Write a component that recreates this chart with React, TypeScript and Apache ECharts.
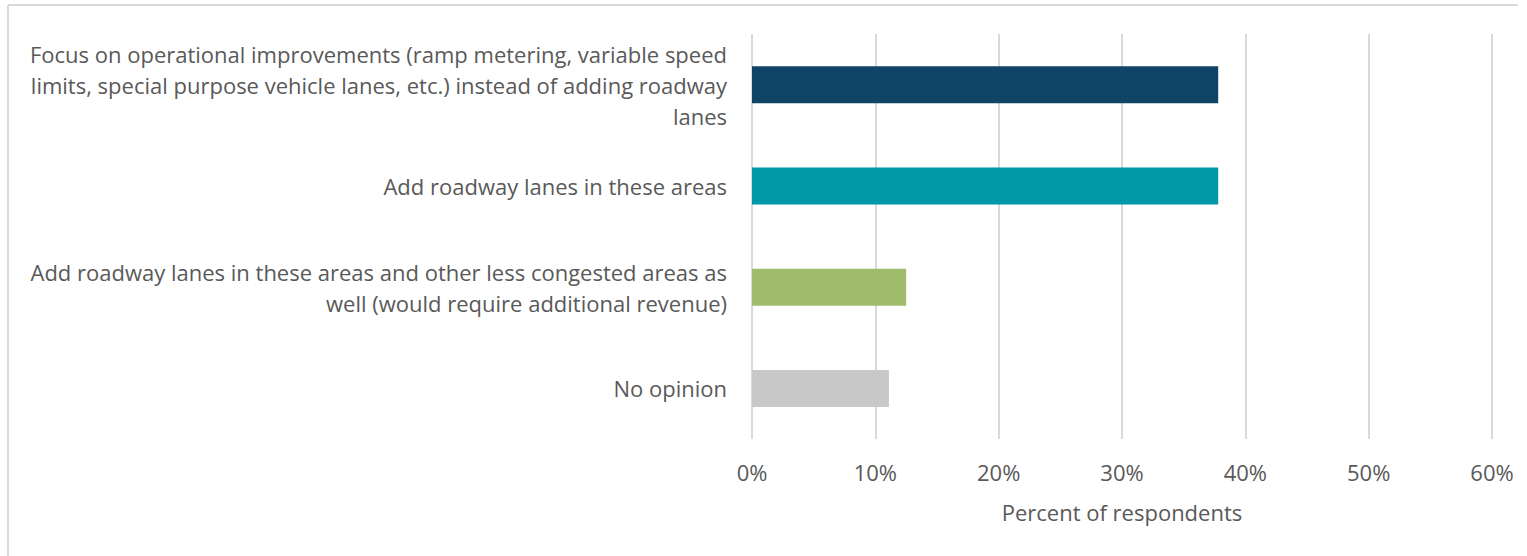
import React, { useEffect, useRef } from "react";
import * as echarts from "echarts";

const categories = [
  "Focus on operational improvements (ramp metering, variable speed\nlimits, special purpose vehicle lanes, etc.) instead of adding roadway\nlanes",
  "Add roadway lanes in these areas",
  "Add roadway lanes in these areas and other less congested areas as\nwell (would require additional revenue)",
  "No opinion",
];
const values = [37.8, 37.8, 12.5, 11.1];
const barColors = ["#104466", "#0097a7", "#9fbb6b", "#c8c8c8"];
const axisTitle = "Percent of respondents";

const FONT = "'Open Sans', 'Noto Sans', sans-serif";
const TEXT = "#595959";

export default function App() {
  const ref = useRef<HTMLDivElement>(null);
  useEffect(() => {
    if (!ref.current) return;
    const chart = echarts.init(ref.current, null, { renderer: "svg" });
    chart.setOption({
      animation: false,
      backgroundColor: "#ffffff",
      textStyle: { fontFamily: FONT },
      grid: { left: 752, right: 35, top: 34, bottom: 117, containLabel: false },
      xAxis: {
        type: "value",
        min: 0,
        max: 60,
        interval: 10,
        name: axisTitle,
        nameLocation: "middle",
        nameGap: 62,
        nameTextStyle: { color: TEXT, fontSize: 22, fontFamily: FONT },
        axisLine: { show: false },
        axisTick: { show: false },
        axisLabel: {
          color: TEXT,
          fontSize: 22,
          fontFamily: FONT,
          margin: 22,
          formatter: (v: number) => `${v}%`,
        },
        splitLine: { show: true, lineStyle: { color: "#d9d9d9", width: 2 } },
      },
      yAxis: {
        type: "category",
        inverse: true,
        data: categories,
        axisLine: { show: false },
        axisTick: { show: false },
        axisLabel: {
          color: TEXT,
          fontSize: 22,
          fontFamily: FONT,
          margin: 25,
          align: "right",
          lineHeight: 31,
        },
        splitLine: { show: false },
      },
      series: [
        {
          type: "bar",
          barWidth: 37,
          data: values.map((v, i) => ({ value: v, itemStyle: { color: barColors[i] } })),
        },
      ],
      graphic: [
        {
          type: "line",
          shape: { x1: 8, y1: 5, x2: 1518, y2: 5 },
          style: { stroke: "#d9d9d9", lineWidth: 2 },
        },
        {
          type: "line",
          shape: { x1: 8, y1: 5, x2: 8, y2: 556 },
          style: { stroke: "#d9d9d9", lineWidth: 2 },
        },
      ],
    });
    return () => chart.dispose();
  }, []);
  return (
    <div
      ref={ref}
      style={{ position: "fixed", left: 0, top: 0, width: 1527, height: 556 }}
    />
  );
}
